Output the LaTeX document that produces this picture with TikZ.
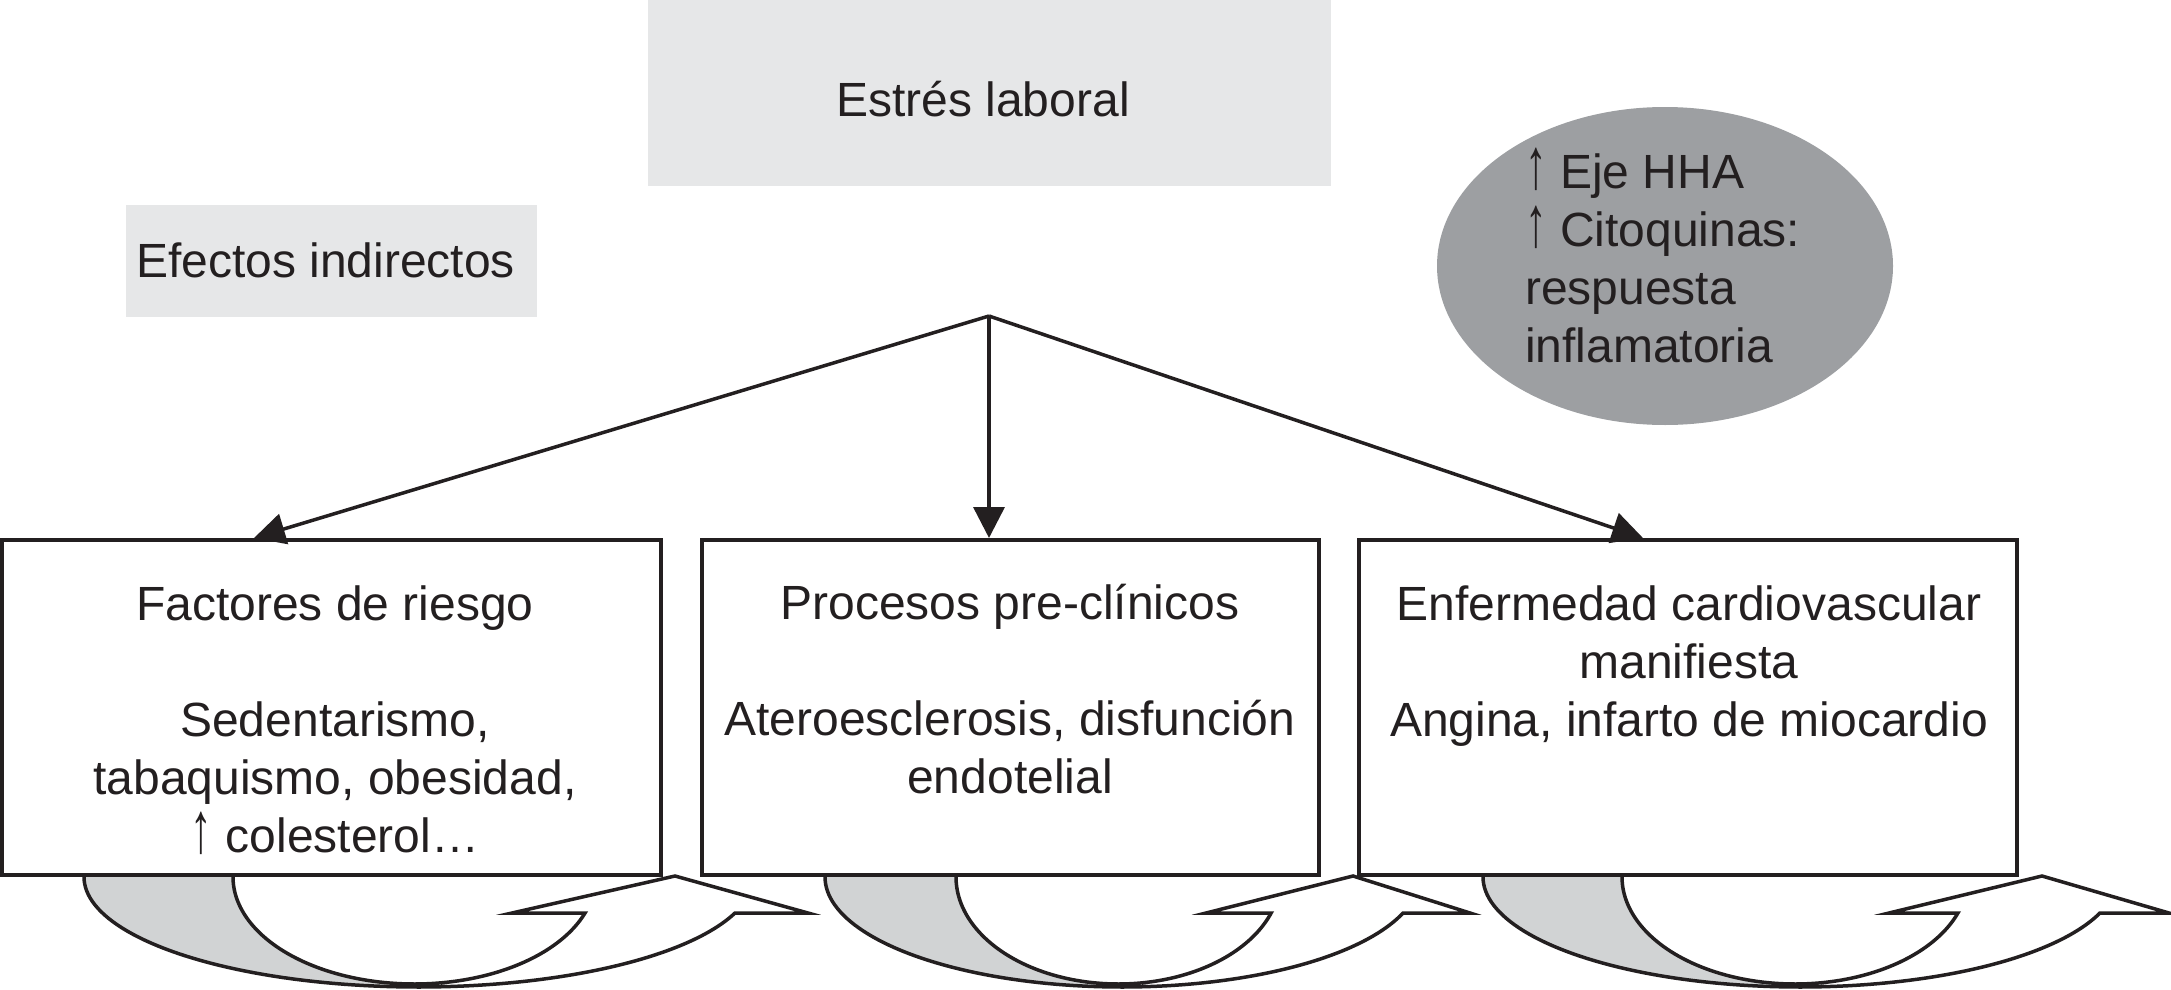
\documentclass[tikz,border=0pt]{standalone}
\usepackage{graphicx}
\usepackage{fontspec}
\setmainfont{Liberation Sans}
\usetikzlibrary{arrows.meta,shapes.geometric,calc}
\definecolor{ink}{HTML}{231F20}
\definecolor{boxgray}{HTML}{E6E7E8}
\definecolor{ellgray}{HTML}{9D9FA2}
\definecolor{bandgray}{HTML}{D1D3D4}
\newcommand{\tallup}{\scalebox{0.9}[1.5]{↑}}
% curved up arrow: #1 cx outer, #2 rx outer, #3 cx inner, #4 rx inner, #5 left barb, #6 tip, #7 right barb
\newcommand{\curvupArrow}[7]{%
  \fill[bandgray] plot[domain=180:90,samples=50] ({#1+#2*cos(\x)},{877+110*sin(\x)})
     -- plot[domain=90:180,samples=50] ({#3+#4*cos(\x)},{877+107*sin(\x)}) -- cycle;
  \draw[bandline] plot[domain=180:90,samples=50] ({#1+#2*cos(\x)},{877+110*sin(\x)});
  \draw[bandline] plot[domain=180:90,samples=50] ({#3+#4*cos(\x)},{877+107*sin(\x)});
  \filldraw[bandline,fill=white] plot[domain=90:19.66,samples=50] ({#3+#4*cos(\x)},{877+107*sin(\x)})
     -- (#5,913) -- (#6,876) -- (#7,913)
     -- plot[domain=19.1:90,samples=50] ({#1+#2*cos(\x)},{877+110*sin(\x)}) -- cycle;
}
\begin{document}
\begin{tikzpicture}[x=1pt,y=-1pt,
  txt/.style={font=\fontsize{48}{58}\selectfont, text=ink, inner sep=0pt},
  lightbox/.style={fill=boxgray, draw=none, inner sep=0pt},
  mainbox/.style={draw=ink, fill=white, line width=4pt, inner sep=0pt, minimum height=335pt},
  conn/.style={draw=ink, line width=3.5pt, -{Triangle[length=31pt,width=31pt]}},
  bandline/.style={draw=ink, line width=3.5pt, line join=miter}]
\useasboundingbox (0,0) rectangle (2171,990);

% curved arrows (behind the boxes)
\curvupArrow{418.7}{334.7}{414.3}{181.3}{512}{675}{808}
\curvupArrow{1122.2}{297.2}{1118.3}{162.3}{1206}{1353}{1470}
\curvupArrow{1800.2}{317.2}{1795}{173}{1889}{2042}{2169}

% top boxes
\node[lightbox, minimum width=683pt, minimum height=186pt] (estres) at (989.5,93) {};
\node[txt, anchor=base] (testres) at (983,116) {Estrés laboral};
\node[lightbox, minimum width=411pt, minimum height=112pt] (efectos) at (331.5,261) {};
\node[txt, anchor=base] (tefectos) at (325.5,277) {Efectos indirectos};

% ellipse
\node[ellipse, fill=ellgray, draw=none, minimum width=456pt, minimum height=318pt, inner sep=0pt] (ell) at (1665,266) {};
\node[txt, anchor=base west, align=left] (tell) at (1525,362) {\tallup\ Eje HHA\\\tallup\ Citoquinas:\\respuesta\\inflamatoria};

% main boxes
\node[mainbox, minimum width=659pt] (b1) at (331.5,707.5) {};
\node[mainbox, minimum width=617pt] (b2) at (1010,707.5) {};
\node[mainbox, minimum width=658pt] (b3) at (1688,707.5) {};

\node[txt, anchor=base, align=center] (t1) at (335,852) {Factores de riesgo\\[58pt]Sedentarismo,\\tabaquismo, obesidad,\\\tallup\ colesterol…};
\node[txt, anchor=base, align=center] (t2) at (1010,793) {Procesos pre-clínicos\\[58pt]Ateroesclerosis, disfunción\\endotelial};
\node[txt, anchor=base, align=center] (t3) at (1689,736) {Enfermedad cardiovascular\\manifiesta\\Angina, infarto de miocardio};

% connectors
\coordinate (J) at (989,316);
\draw[conn] (J) -- ([xshift=254pt]b1.north west);
\draw[conn] (J) -- (b2.north -| J);
\draw[conn] (J) -- ([xshift=286pt]b3.north west);
\end{tikzpicture}
\end{document}
